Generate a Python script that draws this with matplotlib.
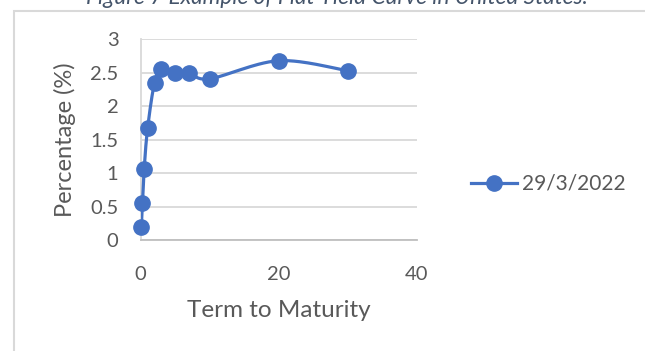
import numpy as np
import matplotlib
matplotlib.use("Agg")
import matplotlib.pyplot as plt
from matplotlib.lines import Line2D
from matplotlib.patches import Rectangle

# US treasury par yields, 29/3/2022
term = [0.083, 0.25, 0.5, 1, 2, 3, 5, 7, 10, 20, 30]
yield_pct = [0.19, 0.55, 1.06, 1.67, 2.35, 2.55, 2.49, 2.50, 2.41, 2.68, 2.53]
series_name = "29/3/2022"
x_ticks = [0, 20, 40]
y_ticks = [0, 0.5, 1, 1.5, 2, 2.5, 3]

blue = "#4472C4"
grey_txt = "#595959"
plt.rcParams["font.family"] = ["Lato", "DejaVu Sans"]


def smooth(xs, ys, n=30):
    # Catmull-Rom style curve through the points (like a "smoothed line")
    xs = np.asarray(xs, float)
    ys = np.asarray(ys, float)
    px = np.concatenate([[xs[0]], xs, [xs[-1]]])
    py = np.concatenate([[ys[0]], ys, [ys[-1]]])
    out_x, out_y = [], []
    for i in range(1, len(px) - 2):
        p0, p1, p2, p3 = (np.array([px[j], py[j]]) for j in (i - 1, i, i + 1, i + 2))
        c1 = p1 + (p2 - p0) / 6
        c2 = p2 - (p3 - p1) / 6
        t = np.linspace(0, 1, n)[:, None]
        b = ((1 - t) ** 3) * p1 + 3 * ((1 - t) ** 2) * t * c1 + 3 * (1 - t) * t ** 2 * c2 + t ** 3 * p2
        out_x.extend(b[:, 0])
        out_y.extend(b[:, 1])
    return out_x, out_y


fig = plt.figure(figsize=(6.45, 3.51), dpi=100)
ax = fig.add_axes([140.7 / 645, 1 - 240 / 351, 276 / 645, 200.7 / 351])

sx, sy = smooth(term, yield_pct)
ax.plot(sx, sy, color=blue, lw=2.3, solid_capstyle="round", zorder=3)
ax.plot(term, yield_pct, ls="none", marker="o", ms=11, color=blue, zorder=4, clip_on=False)

ax.set_xlim(0, 40)
ax.set_ylim(0, 3)
ax.set_xticks(x_ticks)
ax.set_yticks(y_ticks)
ax.set_yticklabels([f"{v:g}" for v in y_ticks])
ax.yaxis.grid(True, color="#D9D9D9", lw=1.3)
ax.set_axisbelow(True)
for s in ("top", "right"):
    ax.spines[s].set_visible(False)
ax.spines["bottom"].set_color("#BFBFBF")
ax.spines["bottom"].set_linewidth(1.3)
ax.spines["left"].set_color("#D9D9D9")
ax.spines["left"].set_linewidth(1.3)
ax.tick_params(length=0, labelsize=14.5, labelcolor=grey_txt)
ax.tick_params(axis="x", pad=19)
ax.tick_params(axis="y", pad=16)

ax.set_xlabel("Term to Maturity", fontsize=17.5, color=grey_txt, labelpad=12)
ax.set_ylabel("Percentage (%)", fontsize=17, color=grey_txt, labelpad=10)

handle = Line2D([], [], color=blue, lw=2.3, marker="o", ms=11)
fig.legend([handle], [series_name], loc="center left", bbox_to_anchor=(452 / 645, 1 - 184 / 351),
           frameon=False, fontsize=15, labelcolor=grey_txt, handlelength=2.2, handletextpad=0.25)

# chart frame and caption above it
fig.patches.append(Rectangle((13.5 / 645, -0.1), 1.2, 1 - 10.5 / 351 + 0.1, transform=fig.transFigure,
                             fill=False, ec="#D9D9D9", lw=1.5))
fig.text(337 / 645, 1 - 4 / 351, "Figure 7 Example of Flat Yield Curve in United States.", ha="center",
         va="baseline", style="italic", fontsize=16.3, color="#44546A")

fig.savefig("out.png", dpi=100)
